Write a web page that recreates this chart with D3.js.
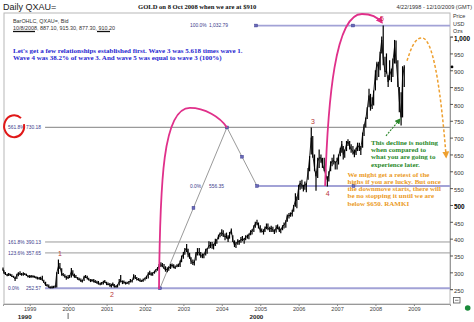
<!DOCTYPE html>
<html><head><meta charset="utf-8">
<script src="https://cdn.jsdelivr.net/npm/d3@7"></script>
<style>body{margin:0;background:#fff}svg{display:block}</style>
</head><body>
<svg id="c" width="474" height="322"></svg>
<script>
// ---------- DATA (semi-monthly OHLC summary of daily gold) ----------
const barDates = [
"1998-04-22","1998-05-01","1998-05-15","1998-06-01","1998-06-15","1998-07-01","1998-07-15","1998-08-01","1998-08-15","1998-09-01","1998-09-15","1998-10-01","1998-10-15","1998-11-01","1998-11-15","1998-12-01","1998-12-15",
"1999-01-01","1999-01-15","1999-02-01","1999-02-15","1999-03-01","1999-03-15","1999-04-01","1999-04-15","1999-05-01","1999-05-15","1999-06-01","1999-06-15","1999-07-01","1999-07-15","1999-08-01","1999-08-15","1999-09-01","1999-09-15","1999-10-01","1999-10-15","1999-11-01","1999-11-15","1999-12-01","1999-12-15",
"2000-01-01","2000-01-15","2000-02-01","2000-02-15","2000-03-01","2000-03-15","2000-04-01","2000-04-15","2000-05-01","2000-05-15","2000-06-01","2000-06-15","2000-07-01","2000-07-15","2000-08-01","2000-08-15","2000-09-01","2000-09-15","2000-10-01","2000-10-15","2000-11-01","2000-11-15","2000-12-01","2000-12-15",
"2001-01-01","2001-01-15","2001-02-01","2001-02-15","2001-03-01","2001-03-15","2001-04-01","2001-04-15","2001-05-01","2001-05-15","2001-06-01","2001-06-15","2001-07-01","2001-07-15","2001-08-01","2001-08-15","2001-09-01","2001-09-15","2001-10-01","2001-10-15","2001-11-01","2001-11-15","2001-12-01","2001-12-15",
"2002-01-01","2002-01-15","2002-02-01","2002-02-15","2002-03-01","2002-03-15","2002-04-01","2002-04-15","2002-05-01","2002-05-15","2002-06-01","2002-06-15","2002-07-01","2002-07-15","2002-08-01","2002-08-15","2002-09-01","2002-09-15","2002-10-01","2002-10-15","2002-11-01","2002-11-15","2002-12-01","2002-12-15",
"2003-01-01","2003-01-15","2003-02-01","2003-02-15","2003-03-01","2003-03-15","2003-04-01","2003-04-15","2003-05-01","2003-05-15","2003-06-01","2003-06-15","2003-07-01","2003-07-15","2003-08-01","2003-08-15","2003-09-01","2003-09-15","2003-10-01","2003-10-15","2003-11-01","2003-11-15","2003-12-01","2003-12-15",
"2004-01-01","2004-01-15","2004-02-01","2004-02-15","2004-03-01","2004-03-15","2004-04-01","2004-04-15","2004-05-01","2004-05-15","2004-06-01","2004-06-15","2004-07-01","2004-07-15","2004-08-01","2004-08-15","2004-09-01","2004-09-15","2004-10-01","2004-10-15","2004-11-01","2004-11-15","2004-12-01","2004-12-15",
"2005-01-01","2005-01-15","2005-02-01","2005-02-15","2005-03-01","2005-03-15","2005-04-01","2005-04-15","2005-05-01","2005-05-15","2005-06-01","2005-06-15","2005-07-01","2005-07-15","2005-08-01","2005-08-15","2005-09-01","2005-09-15","2005-10-01","2005-10-15","2005-11-01","2005-11-15","2005-12-01","2005-12-15",
"2006-01-01","2006-01-15","2006-02-01","2006-02-15","2006-03-01","2006-03-15","2006-04-01","2006-04-15","2006-05-01","2006-05-15","2006-06-01","2006-06-15","2006-07-01","2006-07-15","2006-08-01","2006-08-15","2006-09-01","2006-09-15","2006-10-01","2006-10-15","2006-11-01","2006-11-15","2006-12-01","2006-12-15",
"2007-01-01","2007-01-15","2007-02-01","2007-02-15","2007-03-01","2007-03-15","2007-04-01","2007-04-15","2007-05-01","2007-05-15","2007-06-01","2007-06-15","2007-07-01","2007-07-15","2007-08-01","2007-08-15","2007-09-01","2007-09-15","2007-10-01","2007-10-15","2007-11-01","2007-11-15","2007-12-01","2007-12-15",
"2008-01-01","2008-01-15","2008-02-01","2008-02-15","2008-03-01","2008-03-15","2008-04-01","2008-04-15","2008-05-01","2008-05-15","2008-06-01","2008-06-15","2008-07-01","2008-07-15","2008-08-01","2008-08-15","2008-09-01","2008-09-15","2008-10-01"
];
const barLows = [
305,296,292,288,289,289,286,284,274,280,288,292,290,290,292,289,285,
283,284,284,284,282,279,278,277,275,268,260,258,254,252,252,253,254,255,295,310,290,288,284,278,
280,283,285,290,284,283,278,276,271,270,274,283,279,276,271,272,270,268,266,264,262,263,264,268,
262,262,257,255,260,255,254,255,261,270,265,266,264,265,264,270,270,278,280,276,275,272,271,272,
276,280,282,292,290,290,296,300,305,310,316,315,310,302,300,305,310,314,312,310,315,316,316,330,
340,352,360,345,340,325,322,320,335,350,350,343,342,342,350,355,370,372,370,368,378,385,398,404,
408,405,395,400,390,400,412,390,375,372,382,382,388,392,385,395,400,398,410,412,420,432,440,430,
418,418,412,420,428,425,420,420,420,414,418,428,420,416,425,430,432,450,460,465,466,480,495,490,
515,545,548,540,545,538,575,600,650,640,600,542,580,610,625,610,600,575,555,570,600,615,620,605,
605,620,645,655,635,640,660,675,665,655,650,642,648,660,660,648,670,705,730,755,790,780,785,795,
840,870,880,900,950,915,880,890,850,870,865,880,920,920,850,775,736,760,850
];
const barHighs = [
314,306,301,296,298,296,294,290,287,296,300,303,298,300,298,296,292,
292,292,291,290,288,287,286,287,290,278,272,265,264,259,260,260,262,300,338,328,312,298,294,290,
292,292,313,306,296,292,286,284,282,278,290,292,290,284,280,280,280,277,275,274,270,271,275,277,
272,270,268,266,270,265,262,264,280,292,276,276,272,272,274,280,278,294,292,286,283,282,278,282,
285,290,300,305,300,300,305,310,316,325,330,328,325,318,315,318,325,326,324,320,324,326,335,350,
360,372,384,370,358,345,338,335,360,372,372,360,356,356,370,372,392,390,390,385,400,398,412,418,
428,425,415,418,410,420,430,410,395,390,398,396,405,408,402,410,412,415,425,428,440,450,456,448,
440,430,428,436,445,445,435,438,435,428,440,442,436,430,440,448,455,472,476,478,486,500,535,525,
560,572,575,560,570,565,610,645,730,705,650,600,640,665,650,640,640,605,585,600,630,640,650,630,
640,650,670,690,675,665,690,695,690,680,675,665,670,685,685,675,715,740,760,790,845,830,820,840,
900,925,925,955,1000,1033,940,950,885,930,905,935,990,988,930,850,835,912,915
];
const barCloses = [
309,299,295,291,296,292,288,286,280,293,297,295,293,296,294,291,288,
287,288,288,286,284,283,282,284,277,271,262,261,256,255,256,255,258,298,318,315,296,292,288,285,
284,288,302,294,286,286,280,279,275,274,286,288,282,278,276,276,274,271,270,266,265,267,271,273,
265,264,263,258,266,257,258,262,272,276,270,272,266,268,272,273,275,288,284,279,278,274,274,278,
282,286,296,296,294,297,302,308,312,320,322,320,312,306,310,312,318,322,316,314,320,318,330,344,
354,366,372,352,350,332,328,330,355,362,356,348,350,352,365,368,380,378,383,378,392,396,408,415,
418,412,405,408,398,412,425,395,380,385,392,390,398,396,398,405,406,410,420,422,435,445,448,438,
424,424,418,432,436,430,428,432,425,420,432,436,424,426,437,440,450,468,468,470,478,496,512,515,
552,565,558,555,560,560,600,640,700,650,610,585,630,640,640,620,605,590,575,588,622,630,632,625,
630,645,665,680,650,660,680,688,675,665,660,650,665,678,670,665,710,735,755,785,825,790,800,835,
890,920,905,950,990,935,895,900,865,900,885,925,970,930,870,810,760,880,910
];
const yTicks = [250,300,350,400,450,500,550,600,650,700,750,800,850,900,950,1000];
const yearLabels = ["1999","2000","2001","2002","2003","2004","2005","2006","2007","2008","2009"];
// Fibonacci tool 1 (wave-1 extension)
const fibA_levels = [252.57, 357.65, 390.13, 730.18];
const fibA_pcts = ["0.0%","123.6%","161.8%","561.8%"];
const fibA_vals = ["252.57","357.65","390.13","730.18"];
// Fibonacci tool 2 (wave-3 projection from wave 4)
const fibB_levels = [556.35, 1032.79];
const fibB_pcts = ["0.0%","100.0%"];
const fibB_vals = ["556.35","1,032.79"];
// Elliott wave points (fractional year, price)
const waveNames = ["1","2","3","4","5"];
const waveYears = [1999.79, 2001.14, 2006.37, 2006.76, 2008.17];
const wavePrices = [338, 255, 730, 556, 1033];
const waveAbove = [true, false, true, false, true];
// tool drawing anchors (fractional year, price)
const diagYears = [2002.39, 2004.135, 2004.916];
const diagPrices = [252.57, 730.18, 556.35];
const topLineYears = [2004.89, 2009.94];
const midLineYears = [2004.916, 2009.94];
const fibALineStart = 1999.40;
const arc1 = [[2002.365,250.5],[2002.39,574],[2002.47,788],[2003.17,788],[2003.56,788],[2003.95,761],[2004.135,730.18]];
const arc2 = [[2006.69,556.35],[2006.76,812],[2006.95,1067],[2007.65,1067],[2007.91,1067],[2008.07,1056],[2008.17,1041]];
const orangeArc = [[2008.82,928],[2008.95,975],[2009.05,996],[2009.21,996],[2009.47,996],[2009.68,872],[2009.84,642]];
const greenArrow = [[2008.274,705],[2008.638,755]];
const circleCenter = [1998.59, 731];

const blueText = ["Let's get a few relationships established first. Wave 3 was 5.618 times wave 1.",
                  "Wave 4 was 38.2% of wave 3. And wave 5 was equal to wave 3 (100%)"];
const greenText = ["This decline is nothing","when compared to","what you are going to","experience later."];
const orangeText = ["We might get a retest of the","highs if you are lucky. But once","the downmove starts, there will","be no stopping it until we are","below $650.  RAMKI"];

// ---------- DRAW ----------
const svg = d3.select("#c");
const parse = d3.utcParse("%Y-%m-%d");
const x = d3.scaleUtc().domain([parse("1998-04-22"), parse("2009-12-10")]).range([3, 450]);
const y = d3.scaleLinear().domain([250, 1000]).range([289.17, 36.57]);
const fy = v => { const yr = Math.floor(v); const s = Date.UTC(yr,0,1), e = Date.UTC(yr+1,0,1); return new Date(s + (v-yr)*(e-s)); };
const X = v => x(fy(v));
const P = p => [X(p[0]), y(p[1])];

svg.append("rect").attr("width",474).attr("height",322).attr("fill","#fff");

const defs = svg.append("defs");
function arrow(id, color, size){
  defs.append("marker").attr("id",id).attr("viewBox","0 0 10 10").attr("refX",8).attr("refY",5)
    .attr("markerWidth",size).attr("markerHeight",size).attr("orient","auto").attr("markerUnits","userSpaceOnUse")
    .append("path").attr("d","M0,0 L10,5 L0,10 z").attr("fill",color);
}
arrow("aPink","#e0308a",7);
arrow("aGreen","#2a862a",6);
arrow("aOrange","#eea030",7);

// frame
svg.append("rect").attr("x",4).attr("y",13).attr("width",446).attr("height",291)
  .attr("fill","none").attr("stroke","#b8b8b8").attr("stroke-width",1);

// header
svg.append("text").attr("x",3).attr("y",10).text("Daily QXAU=")
  .attr("font-family","Liberation Sans, Arial, sans-serif").attr("font-size",9).attr("fill","#222");
svg.append("text").attr("x",138).attr("y",9).text("GOLD on 8 Oct 2008 when we are at $910")
  .attr("font-family","Liberation Serif, serif").attr("font-weight","bold").attr("font-size",6.6).attr("fill","#111");
svg.append("text").attr("x",472).attr("y",9).attr("text-anchor","end").text("4/22/1998 - 12/10/2009 (GMT)")
  .attr("font-family","Liberation Sans, Arial, sans-serif").attr("font-size",5.6).attr("fill","#333");

// legend
const small = {ff:"Liberation Sans, Arial, sans-serif"};
svg.append("text").attr("x",13).attr("y",22.5).text("BarOHLC, QXAU=, Bid")
  .attr("font-family",small.ff).attr("font-size",5.4).attr("fill","#333");
svg.append("text").attr("x",13).attr("y",29.5).text("10/8/2008, 887.10, 915.30, 877.30, 910.20")
  .attr("font-family",small.ff).attr("font-size",5.4).attr("fill","#333");
svg.append("line").attr("x1",13).attr("x2",35).attr("y1",31.5).attr("y2",31.5).attr("stroke","#111").attr("stroke-width",1.3);
svg.append("line").attr("x1",97).attr("x2",110).attr("y1",31.5).attr("y2",31.5).attr("stroke","#111").attr("stroke-width",1.3);

// y axis
const yAxis = svg.append("g").attr("transform","translate(450,0)")
  .call(d3.axisRight(y).tickValues(yTicks).tickSize(3).tickPadding(1).tickFormat(d3.format(",")));
yAxis.select(".domain").attr("stroke","#999");
yAxis.selectAll(".tick line").attr("stroke","#555");
yAxis.selectAll(".tick text").attr("font-family",small.ff)
  .attr("dy","0.55em")
  .attr("font-weight", d => (d===500||d===1000) ? "bold" : "normal")
  .attr("font-size", d => (d===500||d===1000) ? 6.4 : 5.8)
  .attr("fill", d => (d===500||d===1000) ? "#000" : "#333");
["Price","USD","Ozs"].forEach((t,i)=>svg.append("text").attr("x",453).attr("y",18+i*7.6).text(t)
  .attr("font-family",small.ff).attr("font-size",5.4).attr("fill","#333"));

// x axis
const xAxis = svg.append("g").attr("transform","translate(0,304)")
  .call(d3.axisBottom(x).tickValues(yearLabels.map(s=>parse(s+"-01-01"))).tickSize(2).tickPadding(1.5).tickFormat(d3.utcFormat("%Y")));
xAxis.select(".domain").attr("stroke","#999");
xAxis.selectAll(".tick line").attr("stroke","#888");
xAxis.selectAll(".tick text").attr("font-family",small.ff).attr("font-size",5.6).attr("fill","#444");
svg.append("text").attr("x",X(1998.87)).attr("y",318.5).attr("text-anchor","middle").text("1990")
  .attr("font-family",small.ff).attr("font-weight","bold").attr("font-size",6.2).attr("fill","#222");
svg.append("text").attr("x",X(2004.9)).attr("y",318.5).attr("text-anchor","middle").text("2000")
  .attr("font-family",small.ff).attr("font-weight","bold").attr("font-size",6.2).attr("fill","#222");
svg.append("line").attr("x1",x(parse("2000-01-01"))).attr("x2",x(parse("2000-01-01"))).attr("y1",313).attr("y2",319).attr("stroke","#666");

// fib tool 1 lines
fibA_levels.forEach((lv,i)=>{
  const lav = i===0;
  svg.append("line").attr("x1",X(fibALineStart)).attr("x2",450).attr("y1",y(lv)).attr("y2",y(lv))
    .attr("stroke", lav ? "#a2a2d6" : "#9a9a9a").attr("stroke-width", lav ? 2 : (i===3?1.3:1));
  svg.append("text").attr("x",8).attr("y",y(lv)+1.8).text(fibA_pcts[i])
    .attr("font-family",small.ff).attr("font-size",4.9).attr("fill","#3c3c8c");
  svg.append("text").attr("x",26).attr("y",y(lv)+1.8).text(fibA_vals[i])
    .attr("font-family",small.ff).attr("font-size",4.9).attr("fill","#3c3c8c");
});
// fib tool 2 lines
svg.append("line").attr("x1",X(midLineYears[0])).attr("x2",X(midLineYears[1])).attr("y1",y(fibB_levels[0])).attr("y2",y(fibB_levels[0]))
  .attr("stroke","#a2a2d6").attr("stroke-width",2);
svg.append("line").attr("x1",X(topLineYears[0])).attr("x2",X(topLineYears[1])).attr("y1",y(fibB_levels[1])).attr("y2",y(fibB_levels[1]))
  .attr("stroke","#a2a2d6").attr("stroke-width",1.8);
fibB_levels.forEach((lv,i)=>{
  svg.append("text").attr("x",190).attr("y",y(lv)+1.8).text(fibB_pcts[i])
    .attr("font-family",small.ff).attr("font-size",4.9).attr("fill","#3c3c8c");
  svg.append("text").attr("x",209).attr("y",y(lv)+1.8).text(fibB_vals[i])
    .attr("font-family",small.ff).attr("font-size",4.9).attr("fill","#3c3c8c");
});
// diagonals
const diagPts = diagYears.map((d,i)=>[X(d), y(diagPrices[i])]);
svg.append("path").attr("d",d3.line()(diagPts)).attr("fill","none").attr("stroke","#9a9a9a").attr("stroke-width",1);

// price bars
const g = svg.append("g");
const bx = barDates.map(d=>x(parse(d)));
g.append("path").attr("d", d3.line()(barCloses.map((c,i)=>[bx[i], y(c)])))
  .attr("fill","none").attr("stroke","#111").attr("stroke-width",0.9);
g.selectAll("line.bar").data(barDates).join("line").attr("class","bar")
  .attr("x1",(d,i)=>bx[i]).attr("x2",(d,i)=>bx[i])
  .attr("y1",(d,i)=>y(barLows[i])).attr("y2",(d,i)=>y(barHighs[i]))
  .attr("stroke","#000").attr("stroke-width",1.2);

// markers
const markerPts = [
  diagPts[0], [(diagPts[0][0]+diagPts[1][0])/2,(diagPts[0][1]+diagPts[1][1])/2],
  diagPts[1], [(diagPts[1][0]+diagPts[2][0])/2,(diagPts[1][1]+diagPts[2][1])/2],
  diagPts[2],
  [X(topLineYears[0]), y(fibB_levels[1])], [(X(topLineYears[0])+X(topLineYears[1]))/2, y(fibB_levels[1])],
  [(X(midLineYears[0])+X(midLineYears[1]))/2, y(fibB_levels[0])]
];
svg.selectAll("rect.mk").data(markerPts).join("rect").attr("class","mk")
  .attr("x",d=>d[0]-1.4).attr("y",d=>d[1]-1.4).attr("width",2.8).attr("height",2.8)
  .attr("fill","#6a6ab8").attr("stroke","#3a3a90").attr("stroke-width",0.5);

// arcs
function cubicPath(pts){
  const p = pts.map(P);
  return `M${p[0]} C${p[1]} ${p[2]} ${p[3]} C${p[4]} ${p[5]} ${p[6]}`;
}
svg.append("path").attr("d",cubicPath(arc1)).attr("fill","none").attr("stroke","#e0308a").attr("stroke-width",1.8);
svg.append("path").attr("d",cubicPath(arc2)).attr("fill","none").attr("stroke","#e0308a").attr("stroke-width",1.8)
  .attr("marker-end","url(#aPink)");
svg.append("path").attr("d",cubicPath(orangeArc)).attr("fill","none").attr("stroke","#eea030").attr("stroke-width",1.5)
  .attr("stroke-dasharray","3,2").attr("marker-end","url(#aOrange)");
svg.append("path").attr("d",d3.line()(greenArrow.map(P))).attr("fill","none").attr("stroke","#2a862a").attr("stroke-width",1.1)
  .attr("stroke-dasharray","2,1.2").attr("marker-end","url(#aGreen)");

// red circle
const cc = P(circleCenter);
svg.append("path").attr("d",`M${cc[0]+7},${cc[1]-9} A10,11 0 1,0 ${cc[0]+10},${cc[1]-3}`)
  .attr("fill","none").attr("stroke","#e01818").attr("stroke-width",2);

// wave labels
waveNames.forEach((n,i)=>{
  svg.append("text").attr("x",X(waveYears[i])).attr("y",y(wavePrices[i]) + (waveAbove[i] ? -4 : 10))
    .attr("text-anchor","middle").text(n)
    .attr("font-family",small.ff).attr("font-size",7).attr("fill", i===4 ? "#d02050" : "#b83838");
});

// last price dot
svg.append("circle").attr("cx",452).attr("cy",y(910)).attr("r",1.4).attr("fill","#000");

// annotation texts
const serif = "Liberation Serif, 'Times New Roman', serif";
blueText.forEach((t,i)=>svg.append("text").attr("x",13).attr("y",52.5+i*7.7).text(t)
  .attr("font-family",serif).attr("font-weight","bold").attr("font-size",7).attr("fill","#2626d0"));
greenText.forEach((t,i)=>svg.append("text").attr("x",371).attr("y",145+i*7.2).text(t)
  .attr("font-family",serif).attr("font-weight","bold").attr("font-size",7).attr("fill","#2a8a2a"));
orangeText.forEach((t,i)=>svg.append("text").attr("x",347.5).attr("y",176.6+i*7.25).text(t)
  .attr("font-family",serif).attr("font-weight","bold").attr("font-size",7).attr("fill","#eb9b26"));

// bottom-right widgets
svg.append("rect").attr("x",453.5).attr("y",297.5).attr("width",6.5).attr("height",5.5)
  .attr("fill","#fff").attr("stroke","#555").attr("stroke-width",0.8);
svg.append("line").attr("x1",455).attr("x2",458.5).attr("y1",300.3).attr("y2",300.3).attr("stroke","#555").attr("stroke-width",0.7);
svg.append("circle").attr("cx",467.7).attr("cy",308).attr("r",2.8).attr("fill","#1a8a3a");
</script>
</body></html>
